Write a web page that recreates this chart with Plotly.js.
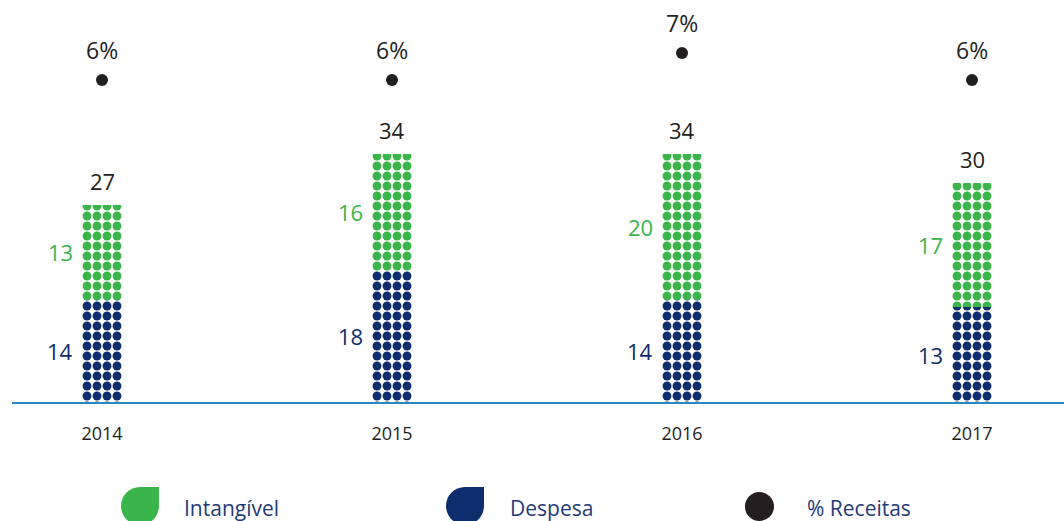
<!DOCTYPE html>
<html>
<head>
<meta charset="utf-8">
<script src="https://cdn.plot.ly/plotly-3.0.1.min.js"></script>
<style>html,body{margin:0;padding:0;background:#fff;}#chart{width:1064px;height:521px;}</style>
</head>
<body>
<div id="chart"></div>
<script>
// ---- data ----
const years = ['2014', '2015', '2016', '2017'];
const despesa = [14, 18, 14, 13];
const intangivel = [13, 16, 20, 17];
const totals = [27, 34, 34, 30];
const receitasPct = [6, 6, 7, 6];

const GREEN = '#39b54a';
const BLUE = '#0d2d6c';
const DARK = '#231f20';
const LEGTXT = '#1f3a78';
const FONT = '"Open Sans", Lato, sans-serif';

const barW = 40 / 290;

const traces = [
  {
    type: 'bar', name: 'Despesa', x: years, y: despesa, width: barW,
    marker: { color: BLUE, line: { width: 0 },
      pattern: { shape: '.', fillmode: 'replace', fgcolor: BLUE, bgcolor: 'rgba(0,0,0,0)', size: 10, solidity: 0.62 } },
    hoverinfo: 'skip', showlegend: false
  },
  {
    type: 'bar', name: 'Intangível', x: years, y: intangivel, width: barW,
    marker: { color: GREEN, line: { width: 0 },
      pattern: { shape: '.', fillmode: 'replace', fgcolor: GREEN, bgcolor: 'rgba(0,0,0,0)', size: 10, solidity: 0.62 } },
    hoverinfo: 'skip', showlegend: false
  },
  {
    type: 'scatter', mode: 'markers', name: '% Receitas', x: years, y: receitasPct, yaxis: 'y2',
    marker: { color: DARK, size: 12 }, cliponaxis: false, hoverinfo: 'skip', showlegend: false
  }
];

const annotations = [];
years.forEach((yr, i) => {
  // segment labels
  annotations.push({ x: i, y: despesa[i] / 2, xref: 'x', yref: 'y', text: String(despesa[i]),
    showarrow: false, xanchor: 'right', yanchor: 'middle', xshift: -27, font: { family: FONT, size: 22, color: BLUE } });
  annotations.push({ x: i, y: despesa[i] + intangivel[i] / 2, xref: 'x', yref: 'y', text: String(intangivel[i]),
    showarrow: false, xanchor: 'right', yanchor: 'middle', xshift: -27, font: { family: FONT, size: 22, color: GREEN } });
  // totals
  annotations.push({ x: i, y: totals[i], xref: 'x', yref: 'y', text: String(totals[i]),
    showarrow: false, xanchor: 'center', yanchor: 'bottom', yshift: 7, font: { family: FONT, size: 22, color: DARK } });
  // percent labels
  annotations.push({ x: i, y: receitasPct[i], xref: 'x', yref: 'y2', text: receitasPct[i] + '%',
    showarrow: false, xanchor: 'center', yanchor: 'bottom', yshift: 12, font: { family: FONT, size: 23, color: DARK } });
});

// legend (manual)
const legY = -0.2643;
const legendItems = [
  { text: 'Intangível', x: 0.1615 },
  { text: 'Despesa', x: 0.4714 },
  { text: '% Receitas', x: 0.7537 }
];
legendItems.forEach(it => annotations.push({
  x: it.x, y: legY, xref: 'paper', yref: 'paper', text: it.text, showarrow: false,
  xanchor: 'left', yanchor: 'middle', font: { family: FONT, size: 21, color: LEGTXT }
}));

const leafPath = 'M 19,19 L 19,0 C 19,-10.5 10.5,-19 0,-19 C -10.5,-19 -19,-10.5 -19,0 C -19,10.5 -10.5,19 0,19 Z';
const shapes = [
  { type: 'path', xref: 'paper', yref: 'paper', xsizemode: 'pixel', ysizemode: 'pixel',
    xanchor: 0.12167, yanchor: -0.2594, path: leafPath, fillcolor: GREEN, line: { width: 0 } },
  { type: 'path', xref: 'paper', yref: 'paper', xsizemode: 'pixel', ysizemode: 'pixel',
    xanchor: 0.4306, yanchor: -0.2594, path: leafPath, fillcolor: BLUE, line: { width: 0 } },
  { type: 'circle', xref: 'paper', yref: 'paper', xsizemode: 'pixel', ysizemode: 'pixel',
    xanchor: 0.7105, yanchor: -0.2606, x0: -14.5, x1: 14.5, y0: -14.5, y1: 14.5, fillcolor: DARK, line: { width: 0 } }
];

const layout = {
  width: 1064, height: 521,
  margin: { l: 12, r: 0, t: 1, b: 119 },
  paper_bgcolor: '#fff', plot_bgcolor: 'rgba(0,0,0,0)',
  barmode: 'stack',
  showlegend: false,
  xaxis: {
    type: 'category', range: [-0.31034, 3.31724], showgrid: false, zeroline: false,
    showline: true, linecolor: '#2b87c4', linewidth: 2, ticks: '',
    tickfont: { family: FONT, size: 18, color: DARK }, ticklabelstandoff: 14, fixedrange: true
  },
  yaxis: { range: [0, 54.93], visible: false, fixedrange: true },
  yaxis2: { range: [-5.926, 8.926], overlaying: 'y', visible: false, fixedrange: true },
  annotations: annotations,
  shapes: shapes
};

Plotly.newPlot('chart', traces, layout, { staticPlot: true, displayModeBar: false });
</script>
</body>
</html>
